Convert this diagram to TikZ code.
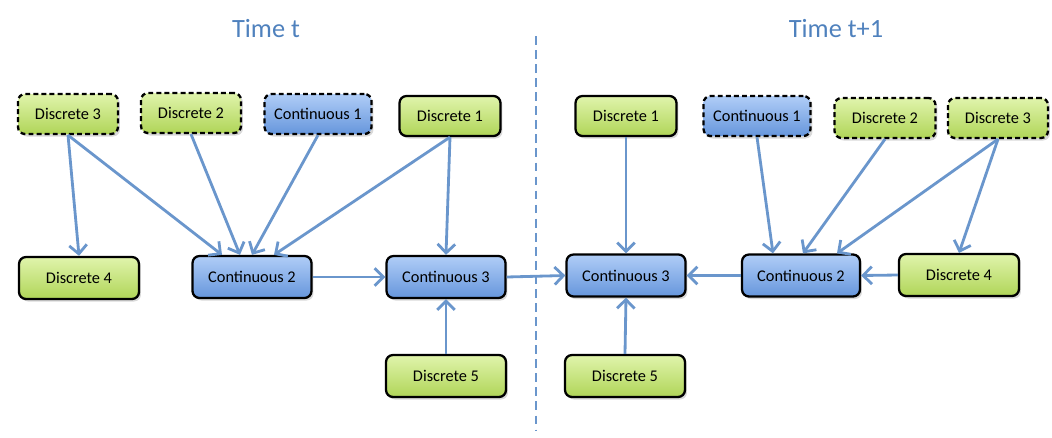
\documentclass[tikz,border=0pt]{standalone}
\usepackage{fontspec}
\setmainfont{Carlito}
\usepackage{xcolor}
\usetikzlibrary{arrows.meta,shadows}
\definecolor{arrowblue}{RGB}{106,150,204}
\definecolor{titleblue}{RGB}{79,129,189}
\definecolor{greentop}{RGB}{224,244,172}
\definecolor{greenbot}{RGB}{176,213,88}
\definecolor{bluetop}{RGB}{176,205,247}
\definecolor{bluebot}{RGB}{102,150,220}
\begin{document}
\begin{tikzpicture}[x=0.02cm,y=0.02cm,
  box/.style={draw=black,line width=1.3pt,rounded corners=0.14cm,minimum height=0.8cm,inner sep=0pt,
    font=\fontsize{9.3}{11}\selectfont,
    drop shadow={shadow xshift=0.04cm,shadow yshift=-0.05cm,opacity=0.3}},
  disc/.style={box,top color=greentop,bottom color=greenbot},
  cont/.style={box,top color=bluetop,bottom color=bluebot},
  dashbox/.style={dash pattern=on 2.8pt off 1.8pt},
  link/.style={draw=arrowblue,line width=1.6pt,-{Straight Barb[length=5pt,width=10pt]}},
  divider/.style={draw=arrowblue,line width=1.3pt,dash pattern=on 5pt off 3pt},
  title/.style={text=titleblue,font=\fontsize{15}{18}\selectfont}]
\useasboundingbox (0,0) rectangle (1052,-437);
\node[title] (tt) at (266,-29) {Time t};
\node[title] (tn) at (836,-29) {Time t+1};
\coordinate (top) at (536,-36);
\coordinate (bot) at (536,-430);
\draw[divider] (top) -- (bot);
\node[disc,dashbox,minimum width=2cm] (d3) at (68,-114) {Discrete 3};
\node[disc,dashbox,minimum width=2cm] (d2) at (191,-113) {Discrete 2};
\node[cont,dashbox,minimum width=2.14cm] (c1) at (318,-114) {Continuous 1};
\node[disc,minimum width=2.02cm] (d1) at (450,-116) {Discrete 1};
\node[disc,minimum width=2.4cm,minimum height=0.84cm] (d4) at (79,-278) {Discrete 4};
\node[cont,minimum width=2.38cm,minimum height=0.84cm] (c2) at (252,-277) {Continuous 2};
\node[cont,minimum width=2.38cm,minimum height=0.84cm] (c3) at (446,-277) {Continuous 3};
\node[disc,minimum width=2.4cm,minimum height=0.84cm] (d5) at (446,-376) {Discrete 5};
\node[disc,minimum width=2.02cm] (nd1) at (626,-116) {Discrete 1};
\node[cont,dashbox,minimum width=2.14cm] (nc1) at (757,-116) {Continuous 1};
\node[disc,dashbox,minimum width=2.02cm] (nd2) at (885,-118) {Discrete 2};
\node[disc,dashbox,minimum width=2cm] (nd3) at (998,-118) {Discrete 3};
\node[cont,minimum width=2.38cm,minimum height=0.84cm] (nc3) at (626,-275.5) {Continuous 3};
\node[cont,minimum width=2.36cm,minimum height=0.84cm] (nc2) at (801,-275.5) {Continuous 2};
\node[disc,minimum width=2.4cm,minimum height=0.84cm] (nd4) at (959,-275) {Discrete 4};
\node[disc,minimum width=2.4cm,minimum height=0.84cm] (nd5) at (625,-376) {Discrete 5};
\draw[link] (d3.south) -- (d4.north);
\draw[link] (d3.south) -- ([xshift=-0.6cm]c2.north);
\draw[link] (d2.south) -- ([xshift=-0.24cm]c2.north);
\draw[link] (c1.south) -- (c2.north);
\draw[link] (d1.south) -- ([xshift=0.44cm]c2.north);
\draw[link] (d1.south) -- (c3.north);
\draw[link] (c2.east) -- (c3.west);
\draw[link] (d5.north) -- (c3.south);
\draw[link] (c3.east) -- (nc3.west);
\draw[link] (nd1.south) -- (nc3.north);
\draw[link] (nd5.north) -- (nc3.south);
\draw[link] (nc2.west) -- (nc3.east);
\draw[link] (nd4.west) -- (nc2.east);
\draw[link] (nc1.south) -- ([xshift=-0.56cm]nc2.north);
\draw[link] (nd2.south) -- ([xshift=0.04cm]nc2.north);
\draw[link] (nd3.south) -- ([xshift=0.72cm]nc2.north);
\draw[link] (nd3.south) -- (nd4.north);
\end{tikzpicture}
\end{document}
